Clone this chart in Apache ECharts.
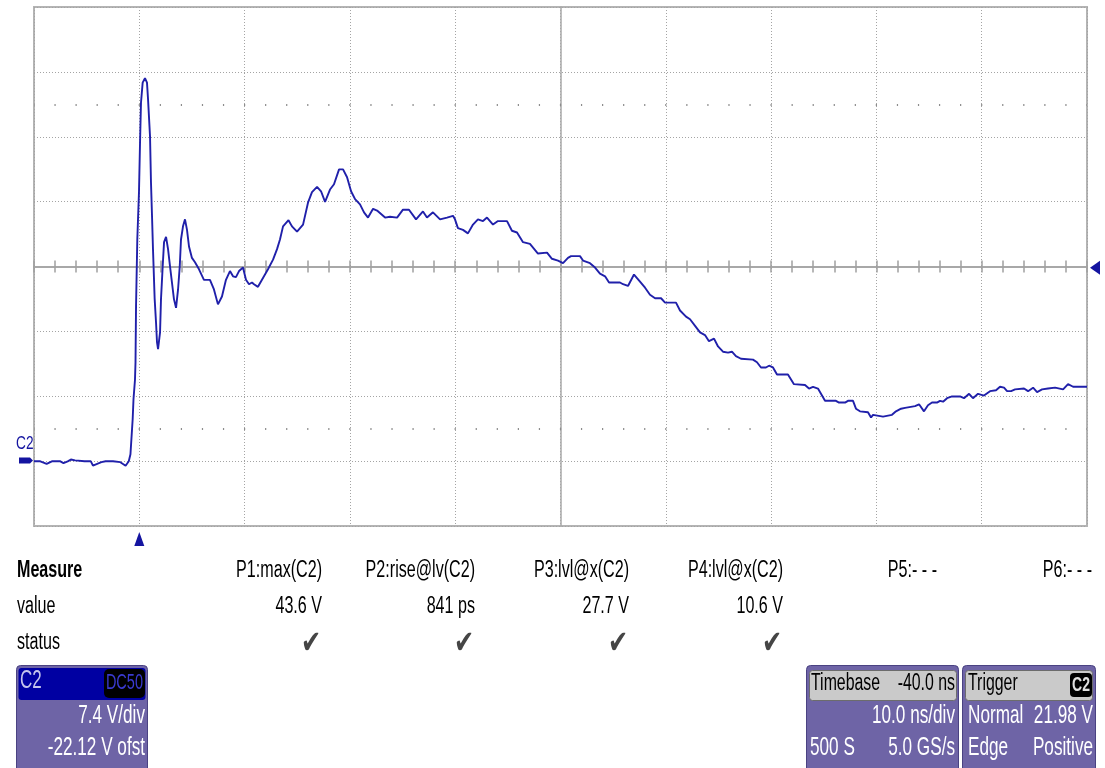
<!DOCTYPE html>
<html><head><meta charset="utf-8">
<script src="https://cdn.jsdelivr.net/npm/echarts@6/dist/echarts.min.js"></script>
<style>html,body{margin:0;padding:0;background:#fff}#c{width:1105px;height:768px}</style>
</head><body><div id="c"></div>
<script>
// ---- data (time in ns relative to trigger, voltage in V) ----
const timeNs = [
-10.0,-9.4,-8.8,-8.3,-7.5,-7.2,-6.8,-6.5,-6.1,-5.2,
-4.6,-4.4,-4.0,-3.6,-3.2,-2.5,-1.8,-1.3,-1.0,-0.84,
-0.63,-0.55,-0.41,-0.36,-0.31,-0.19,-0.03,0.07,0.16,0.32,
0.54,0.73,0.83,1.02,1.11,1.21,1.30,1.46,1.59,1.68,
1.78,1.97,2.06,2.22,2.35,2.54,2.73,2.92,3.10,3.29,
3.49,3.68,3.84,3.96,4.15,4.34,4.53,4.72,5.00,5.29,
5.67,6.14,6.71,7.09,7.47,7.85,8.23,8.61,8.90,9.18,
9.47,9.85,10.13,10.42,10.70,10.89,11.27,11.65,12.22,12.70,
13.08,13.36,13.65,14.17,14.50,14.98,15.55,16.02,16.40,16.88,
17.26,17.64,18.11,18.49,18.97,19.35,19.73,20.11,20.49,20.96,
21.34,21.72,22.20,22.58,23.34,23.81,24.48,25.04,25.61,26.28,
26.94,27.32,27.89,28.56,29.22,29.79,29.98,30.26,30.74,31.21,
31.69,32.16,32.64,33.02,33.59,34.06,34.92,35.39,35.87,36.44,
37.10,37.86,38.72,39.19,39.76,40.24,40.71,41.00,41.85,42.14,
42.80,43.28,43.75,44.23,44.61,45.65,45.94,46.41,46.98,47.55,
48.03,48.50,48.98,49.55,49.93,50.97,51.35,51.92,52.30,52.87,
53.25,53.72,54.10,54.58,54.96,55.43,55.91,56.28,56.66,57.14,
58.28,58.66,59.04,59.51,59.80,60.18,60.56,61.60,62.17,63.22,
63.60,63.98,64.45,64.93,65.12,66.16,66.45,67.02,67.30,67.78,
68.06,68.44,69.20,69.49,69.68,70.63,71.48,71.86,72.34,72.72,
73.67,74.05,74.52,74.90,75.28,75.75,76.04,76.33,76.71,77.18,
77.94,78.32,78.80,79.17,79.65,80.22,80.79,81.36,81.74,82.12,
82.41,82.79,83.17,84.02,84.40,84.88,85.26,85.73,86.30,86.97,
87.73,88.20,88.68,90.0
];
const volts = [
-0.1,-0.1,-0.4,-0.1,-0.1,-0.3,-0.1,0.1,0.0,-0.1,
-0.1,-0.6,-0.4,-0.2,-0.1,-0.1,-0.2,-0.6,-0.1,0.7,
4.7,7.0,9.2,11.2,17.6,25.2,30.6,36.3,40.8,43.1,
43.6,43.1,41.2,36.9,31.7,27.8,24.1,18.4,15.7,13.5,
12.7,14.6,18.4,22.1,24.9,25.5,24.1,22.1,20.3,18.4,
17.4,19.5,22.1,25.2,26.7,27.5,26.3,24.4,23.1,22.6,
21.8,20.6,20.6,19.5,17.8,18.7,20.6,21.6,21.0,20.9,
21.6,22.0,20.6,20.1,20.3,20.1,19.8,20.6,21.8,22.9,
24.1,25.2,26.7,27.4,26.7,26.1,26.9,29.4,30.6,31.2,
30.7,29.5,30.9,31.5,33.2,33.2,32.3,30.7,29.8,29.2,
28.3,27.7,28.7,28.5,27.7,27.8,27.7,28.6,28.6,27.5,
28.4,27.7,28.3,27.5,27.7,27.9,27.5,26.5,26.3,25.9,
26.9,27.5,27.3,27.7,26.9,27.3,27.3,26.2,26.0,24.9,
24.7,23.6,23.7,23.0,22.8,22.5,23.1,23.3,23.3,22.8,
22.5,22.0,21.3,21.0,20.3,20.3,20.1,19.9,21.2,20.4,
19.7,18.9,18.5,18.5,18.0,18.0,17.1,16.4,16.1,15.2,
14.6,14.3,13.6,13.9,13.0,12.4,12.3,12.4,11.9,11.6,
11.5,11.2,10.6,10.6,10.8,10.6,9.8,9.8,8.7,8.6,
8.2,8.4,8.2,7.2,6.8,6.8,6.6,6.6,6.8,6.8,
5.9,5.6,5.5,4.9,5.2,5.0,5.2,5.6,5.9,6.0,
6.2,6.4,5.6,6.3,6.6,6.6,6.8,6.7,7.1,7.3,
7.3,7.1,7.6,7.1,7.6,7.4,7.9,8.0,8.4,8.3,
7.9,7.9,8.1,8.2,7.9,8.3,7.8,8.1,8.2,8.3,
8.1,8.7,8.4,8.4
];
const measureLabels = ['P1:max(C2)','P2:rise@lv(C2)','P3:lvl@x(C2)','P4:lvl@x(C2)','P5:- - -','P6:- - -'];
const measureValues = ['43.6 V','841 ps','27.7 V','10.6 V','',''];
const measureStatus = ['\u2714','\u2714','\u2714','\u2714','',''];
const voltsPerDiv = 7.4, offsetV = -22.12;
const nsPerDiv = 10, triggerTimeNs = 0, triggerLevelV = 21.98;
const horizDivs = 10, vertDivs = 8, triggerDivFromLeft = 1;
const dotRowDivs = [2.5, -2.5];

// ---- derived scales ----
const centerV = -offsetV;
const vMin = centerV - vertDivs/2*voltsPerDiv, vMax = centerV + vertDivs/2*voltsPerDiv;
const tMin = triggerTimeNs - triggerDivFromLeft*nsPerDiv, tMax = tMin + horizDivs*nsPerDiv;

const GRID = {left:34, top:7, width:1053, height:519};
const FONT = '"Liberation Sans", Arial, sans-serif';
const gridGray = '#a4a4a4';
const trace = '#2020aa';

const chart = echarts.init(document.getElementById('c'), null, {renderer:'canvas'});
const divAxisX = (pos, extra) => Object.assign({
  type:'value', min:-horizDivs/2, max:horizDivs/2, interval:1, position:pos,
  axisLabel:{show:false},
  axisLine:{show:true, onZero:true, onZeroAxisIndex:0, lineStyle:{color:'#a8a8a8', width:2}},
  axisTick:{show:true, length:6, lineStyle:{color:'#a0a0a0', width:1.5}},
  minorTick:{show:true, splitNumber:5, length:6, lineStyle:{color:'#a0a0a0', width:1.5}},
  splitLine:{show:false}
}, extra||{});

chart.setOption({
  animation:false,
  backgroundColor:'#fff',
  grid:{left:GRID.left, top:GRID.top, width:GRID.width, height:GRID.height, show:true,
        borderColor:'#b4b4b4', borderWidth:2, backgroundColor:'#fff'},
  xAxis:[
    divAxisX('bottom', {splitLine:{show:true, lineStyle:{color:gridGray, width:1, type:[1,2]}}}),
    divAxisX('top'),
    {type:'value', min:tMin, max:tMax, interval:nsPerDiv, show:false}
  ],
  yAxis:[
    {type:'value', min:-vertDivs/2, max:vertDivs/2, interval:1, position:'left',
     axisLabel:{show:false}, axisTick:{show:false},
     axisLine:{show:true, onZero:true, onZeroAxisIndex:0, lineStyle:{color:'#a8a8a8', width:1.5}},
     splitLine:{show:true, lineStyle:{color:gridGray, width:1, type:[1,2]}}},
    {type:'value', min:vMin, max:vMax, show:false}
  ],
  series:[{
    type:'line', xAxisIndex:2, yAxisIndex:1, showSymbol:false, symbol:'none',
    data: timeNs.map((t,i)=>[t, volts[i]]),
    lineStyle:{color:trace, width:1.9}, z:5,
    markLine:{silent:true, symbol:['none','none'], label:{show:false}, animation:false,
      lineStyle:{color:'#8c8c8c', width:2, type:[1.2,19.86], dashOffset:0.6},
      data: dotRowDivs.map(d=>({yAxis: centerV + d*voltsPerDiv}))}
  }]
});

// ---- markers from scales ----
const gy = chart.convertToPixel({yAxisIndex:1}, 0);
const ty = chart.convertToPixel({yAxisIndex:1}, triggerLevelV);
const tx = chart.convertToPixel({xAxisIndex:2}, triggerTimeNs);
const mk = '#1414a0';
const els = [];
els.push({type:'polygon', shape:{points:[[19,gy-3],[30,gy-3],[33,gy],[30,gy+3],[19,gy+3]]}, style:{fill:mk}});
els.push({type:'text', x:16, y:gy-17, scaleX:0.72, style:{text:'C2', fill:mk, font:'19px '+FONT, align:'left', textAlign:'left', verticalAlign:'middle', textVerticalAlign:'middle'}});
els.push({type:'polygon', shape:{points:[[1090,ty],[1100,ty-7],[1100,ty+7]]}, style:{fill:mk}});
els.push({type:'polygon', shape:{points:[[tx,532],[tx-5,546],[tx+5,546]]}, style:{fill:mk}});

function txt(x, y, s, o){
  o = o||{};
  const al = o.align||'left';
  els.push({type:'text', x:x, y:y, scaleX:o.sx||0.7, z:10,
    style:{text:s, fill:o.fill||'#000', font:(o.bold?'bold ':'')+(o.size||23)+'px '+(o.family||FONT),
      align:al, textAlign:al, verticalAlign:'middle', textVerticalAlign:'middle'}});
}
// measure table
txt(17, 571, 'Measure', {bold:true, sx:0.7});
txt(17, 607, 'value');
txt(17, 643, 'status');
const colRight = [322, 475, 629, 783, 937, 1092];
measureLabels.forEach((s,i)=>txt(colRight[i], 571, s, {align:'right'}));
measureValues.forEach((s,i)=>{ if(s) txt(colRight[i], 607, s, {align:'right'}); });
measureStatus.forEach((s,i)=>{ if(s) txt(colRight[i]-1, 645, s, {align:'right', size:32, sx:0.75, fill:'#454545', family:'"DejaVu Sans", sans-serif'}); });

// info boxes
const purple = '#6e64a6', purpleEdge = '#4a4282';
function rect(x,y,w,h,fill,stroke,r){ els.push({type:'rect', z:5, shape:{x:x,y:y,width:w,height:h,r:r||0}, style:{fill:fill, stroke:stroke||null, lineWidth:stroke?1:0}}); }
// C2 channel box
rect(16.5, 665.5, 131, 110, purple, purpleEdge, 4);
rect(18.5, 668, 127, 32, '#0000a2', null, 3);
rect(104, 669, 41, 29, '#000', null, 5);
txt(20, 681, 'C2', {fill:'#c4c4ec', size:25, sx:0.68});
txt(143, 683, 'DC50', {fill:'#3a3ad0', size:22, sx:0.66, align:'right'});
txt(145, 716, '7.4 V/div', {fill:'#fff', size:26, sx:0.66, align:'right'});
txt(145, 748, '-22.12 V ofst', {fill:'#fff', size:26, sx:0.66, align:'right'});
// Timebase box
rect(806.5, 665.5, 152, 110, purple, purpleEdge, 4);
rect(809.5, 670.5, 147, 30, '#cacaca', '#6c6c6c', 3);
txt(811, 684, 'Timebase', {size:23, sx:0.69});
txt(955, 684, '-40.0 ns', {size:23, sx:0.69, align:'right'});
txt(955, 716, '10.0 ns/div', {fill:'#fff', size:26, sx:0.66, align:'right'});
txt(810, 748, '500 S', {fill:'#fff', size:26, sx:0.66});
txt(955, 748, '5.0 GS/s', {fill:'#fff', size:26, sx:0.66, align:'right'});
// Trigger box
rect(962.5, 665.5, 133, 110, purple, purpleEdge, 4);
rect(965.5, 670.5, 127, 30, '#cacaca', '#6c6c6c', 3);
rect(1070, 673, 22, 24, '#000', null, 4);
txt(968, 684, 'Trigger', {size:23, sx:0.69});
txt(1081, 685, 'C2', {fill:'#e0e0e0', size:20, sx:0.7, align:'center', bold:true});
txt(968, 716, 'Normal', {fill:'#fff', size:26, sx:0.66});
txt(1093, 716, '21.98 V', {fill:'#fff', size:26, sx:0.66, align:'right'});
txt(968, 748, 'Edge', {fill:'#fff', size:26, sx:0.66});
txt(1093, 748, 'Positive', {fill:'#fff', size:26, sx:0.66, align:'right'});

chart.setOption({graphic:{elements:els}});
</script></body></html>
